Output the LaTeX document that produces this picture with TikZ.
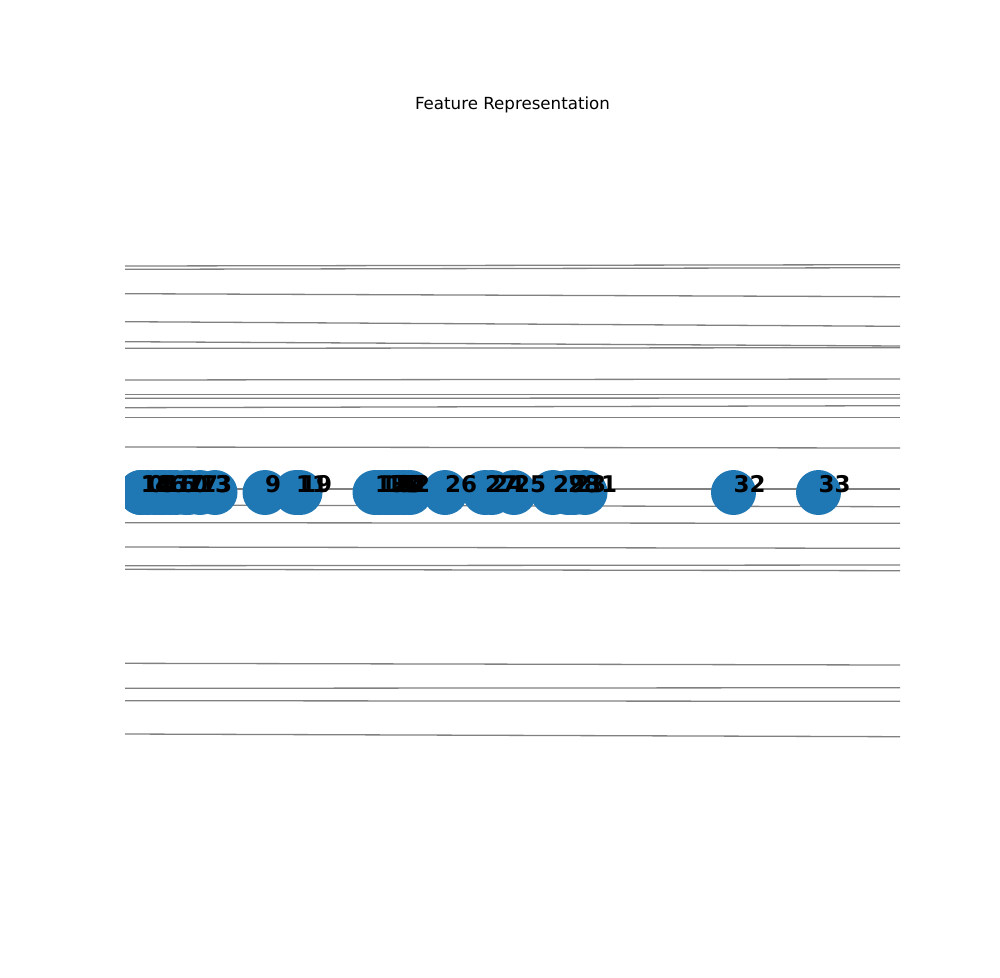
\documentclass[tikz,border=0pt]{standalone}
\usepackage{fontspec}
\setmainfont{DejaVu Sans}
\definecolor{nodeblue}{HTML}{1F77B4}
\definecolor{edgegray}{HTML}{808080}
\begin{document}
\begin{tikzpicture}[x=1pt,y=-1pt,
  vert/.style={circle,fill=nodeblue,minimum size=45pt,inner sep=0pt},
  vlabel/.style={anchor=base west,inner sep=0pt,font=\fontsize{23}{23}\selectfont\bfseries},
  edgeline/.style={draw=edgegray,line width=1.3pt},
  titletext/.style={anchor=base,inner sep=0pt,font=\fontsize{16.67}{20}\selectfont}]
\useasboundingbox[fill=white] (0,0) rectangle (1000,977);
\node[titletext] (title) at (512.5,109.7) {Feature Representation};
% edges (clipped at the axes)
\foreach \i/\a/\b in {1/266/264.7,2/269.3/267.7,3/293.7/296.7,4/321.7/326.3,5/341.7/346,
  6/348.3/347.7,7/380/379,8/394.7/394.7,9/398.3/398,10/407.7/405.7,11/417.7/417.7,
  12/447/448,13/489/489,14/505/506.7,15/522.7/523.3,16/547/548.3,17/565.7/565,
  18/569.3/570.7,19/663.3/665,20/688.3/687.7,21/700.7/701.3,22/734/736.7}{
  \coordinate (e\i a) at (125,\a);
  \coordinate (e\i b) at (900,\b);
  \draw[edgeline] (e\i a) -- (e\i b);
}
\def\vertlist{0/148,1/375,2/410,3/215,4/155,5/160,6/170,7/188,8/404,9/265,10/176,
  11/296,12/141,13/200,14/141,15/386,16/164,17/186,18/380,19/300,20/392,21/396,
  22/398,23/574,24/492,25/514,26/445,27/485,28/568,29/553,30/390,31/585,32/733.5,33/818.5}
\begin{scope}
\clip (125,0) rectangle (900,977);
\foreach \n/\x in \vertlist {
  \node[vert] (v\n) at (\x,492.5) {};
}
\end{scope}
\foreach \n/\x in \vertlist {
  \node[vlabel] (l\n) at (v\n.center) {\n};
}
\end{tikzpicture}
\end{document}
